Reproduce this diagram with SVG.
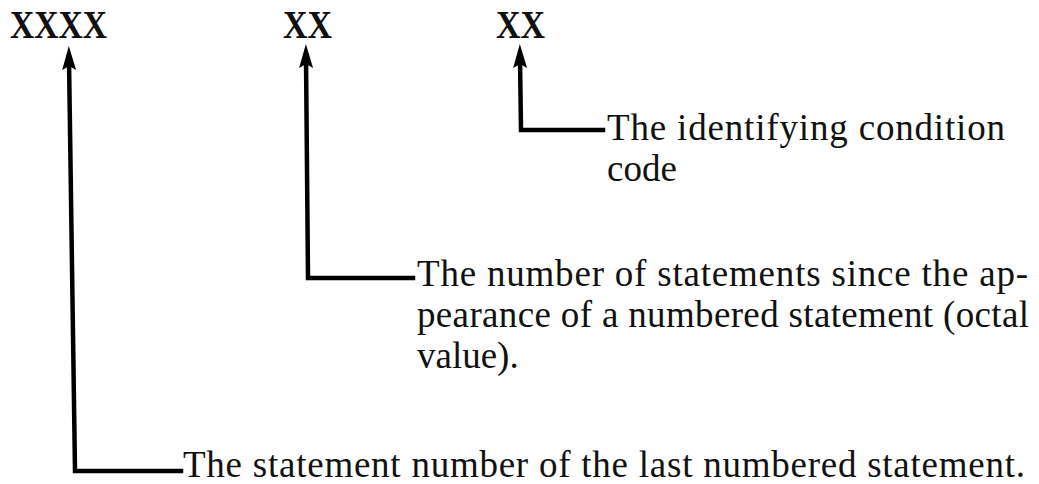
<svg xmlns="http://www.w3.org/2000/svg" width="1039" height="484" viewBox="0 0 1039 484">
  <style>
    text { font-family: "Liberation Serif", "Times New Roman", serif; fill: #111; }
    .code { font-size: 40px; font-weight: bold; }
    .lbl { font-size: 37px; }
    .conn { fill: none; stroke: #000; stroke-width: 4.5; stroke-linejoin: miter; stroke-linecap: square; }
  </style>
  <defs>
    <marker id="arrow" viewBox="0 0 24 16" refX="10" refY="8" markerWidth="24" markerHeight="16" markerUnits="userSpaceOnUse" orient="auto">
      <path d="M0,1 L24,8 L0,15 L4,8 z" fill="#000"/>
    </marker>
  </defs>

  <g id="field-statement-number">
    <text class="code" x="10" y="38" textLength="97" lengthAdjust="spacingAndGlyphs">XXXX</text>
  </g>
  <g id="field-statement-count">
    <text class="code" x="283" y="38" textLength="49" lengthAdjust="spacingAndGlyphs">XX</text>
  </g>
  <g id="field-condition-code">
    <text class="code" x="496" y="38" textLength="49" lengthAdjust="spacingAndGlyphs">XX</text>
  </g>

  <g id="label-condition-code">
    <text class="lbl" x="607" y="140" textLength="398" lengthAdjust="spacing">The identifying condition</text>
    <text class="lbl" x="607" y="181">code</text>
  </g>
  <g id="label-statement-count">
    <text class="lbl" x="417" y="286" textLength="611" lengthAdjust="spacing">The number of statements since the ap-</text>
    <text class="lbl" x="417" y="327" textLength="612" lengthAdjust="spacing">pearance of a numbered statement (octal</text>
    <text class="lbl" x="417" y="368">value).</text>
  </g>
  <g id="label-statement-number">
    <text class="lbl" x="183" y="477" textLength="842" lengthAdjust="spacing">The statement number of the last numbered statement.</text>
  </g>

  <g id="connectors">
    <path class="conn" d="M181,471 L75,471 L69,60" marker-end="url(#arrow)"/>
    <path class="conn" d="M413,278 L308,278 L306,58" marker-end="url(#arrow)"/>
    <path class="conn" d="M603,130 L521,130 L520,58" marker-end="url(#arrow)"/>
  </g>
</svg>
